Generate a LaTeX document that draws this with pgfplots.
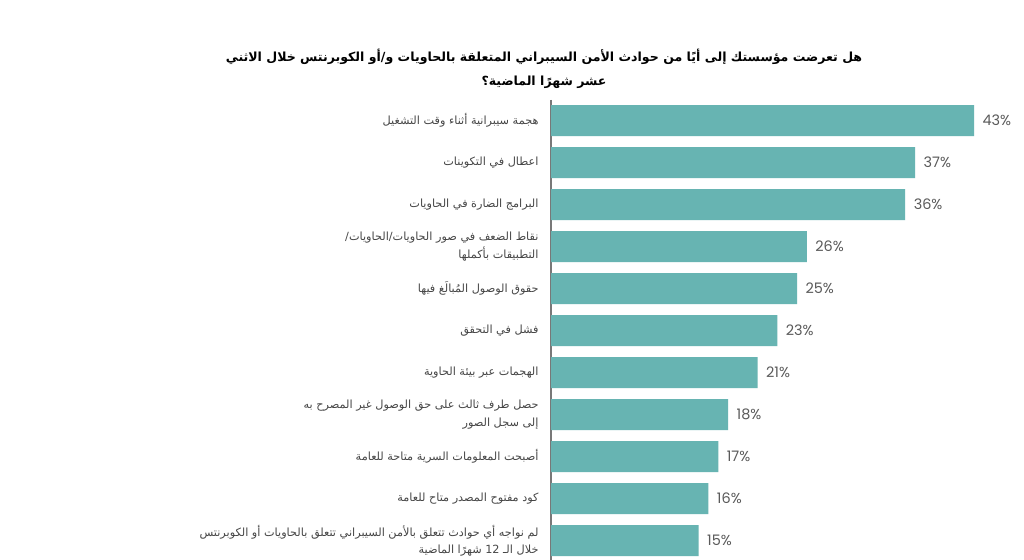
\documentclass[border=0pt]{standalone}
\usepackage{pgfplots}
\pgfplotsset{compat=1.18}
\usepackage{fontspec}
\setmainfont{DejaVu Sans}
\newfontfamily\arabicfont[Script=Arabic]{DejaVu Sans}
\newfontfamily\numfont{Poppins}
\TeXXeTstate=1
\definecolor{barteal}{RGB}{103,180,178}
\definecolor{labgray}{RGB}{70,70,70}
\definecolor{numgray}{RGB}{90,90,90}
\definecolor{axgray}{RGB}{120,120,120}
\begin{document}
\begin{tikzpicture}[x=1bp,y=1bp]
\path[use as bounding box, fill=white] (0,0) rectangle (1024,560);
\node[font=\arabicfont\bfseries\fontsize{12.6}{24}\selectfont, align=center, text=black] at (544,491)
  {\beginR هل تعرضت مؤسستك إلى أيًا من حوادث الأمن السيبراني المتعلقة بالحاويات و/أو الكوبرنتس خلال الاثني\endR\\\beginR عشر شهرًا الماضية؟\endR};
\begin{axis}[
  at={(551bp,0bp)}, anchor=south west,
  scale only axis, width=473bp, height=460bp,
  xbar, bar width=31bp,
  xmin=0, xmax=48.07,
  ymin=-0.49, ymax=10.46, y dir=reverse,
  axis x line=none, axis y line*=left,
  y axis line style={draw=axgray, line width=1.3bp},
  ytick={0,1,2,3,4,5,6,7,8,9,10},
  major tick length=0pt,
  yticklabel style={font=\arabicfont\fontsize{11.3}{17.5}\selectfont, text=labgray, align=right, anchor=east, xshift=-9bp},
  yticklabels={
    {\beginR هجمة سيبرانية أثناء وقت التشغيل\endR},
    {\beginR اعطال في التكوينات\endR},
    {\beginR البرامج الضارة في الحاويات\endR},
    {\beginR نقاط الضعف في صور الحاويات/الحاويات/\endR\\\beginR التطبيقات بأكملها\endR},
    {\beginR حقوق الوصول المُبالَغ فيها\endR},
    {\beginR فشل في التحقق\endR},
    {\beginR الهجمات عبر بيئة الحاوية\endR},
    {\beginR حصل طرف ثالث على حق الوصول غير المصرح به\endR\\\beginR إلى سجل الصور\endR},
    {\beginR أصبحت المعلومات السرية متاحة للعامة\endR},
    {\beginR كود مفتوح المصدر متاح للعامة\endR},
    {\beginR لم نواجه أي حوادث تتعلق بالأمن السيبراني تتعلق بالحاويات أو الكوبرنتس\endR\\\beginR خلال الـ \beginL12\endL{} شهرًا الماضية\endR}
  },
  /pgf/number format/assume math mode=true,
  nodes near coords={\pgfmathprintnumber{\pgfplotspointmeta}\%},
  nodes near coords style={font=\numfont\fontsize{14.5}{16}\selectfont, text=numgray, anchor=west, xshift=5bp},
  clip=false,
]
\addplot[draw=none, fill=barteal] coordinates {
  (43,0) (37,1) (36,2) (26,3) (25,4) (23,5) (21,6) (18,7) (17,8) (16,9) (15,10)
};
\end{axis}
\end{tikzpicture}
\end{document}
